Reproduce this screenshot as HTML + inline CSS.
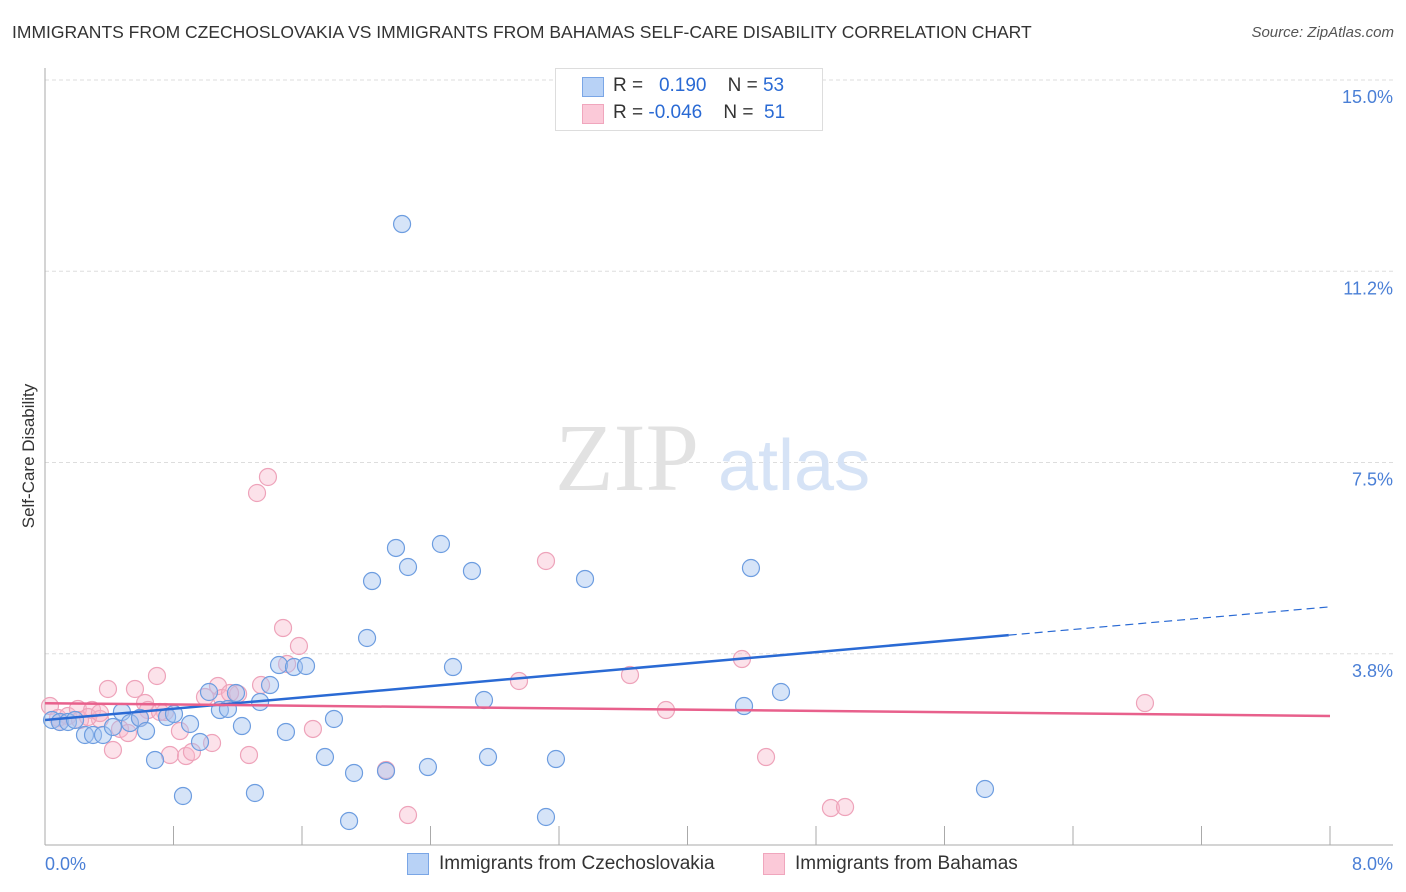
<!DOCTYPE html>
<html><head><meta charset="utf-8"><style>
body{margin:0;background:#fff;font-family:"Liberation Sans",sans-serif;}
#wrap{position:relative;width:1406px;height:892px;overflow:hidden;}
.t{position:absolute;white-space:nowrap;}
</style></head><body>
<div id="wrap">
<div class="t" style="left:12px;top:22px;font-size:17.5px;color:#333;">IMMIGRANTS FROM CZECHOSLOVAKIA VS IMMIGRANTS FROM BAHAMAS SELF-CARE DISABILITY CORRELATION CHART</div>
<div class="t" style="right:12px;top:24px;font-size:15px;color:#555;font-style:italic;">Source: ZipAtlas.com</div>
<svg id="svg" width="1406" height="892" style="position:absolute;left:0;top:0"></svg>
</div>
<script>
const xTicks=[0,0.8,1.6,2.4,3.2,4.0,4.8,5.6,6.4,7.2,8.0];
const yTicks=[3.75,7.5,11.25,15];
const yTickLabels=["3.8%","7.5%","11.2%","15.0%"];
const blueX=[52,60,68,75,85,93,103,113,122,130,140,146,155,167,174,183,190,200,209,220,228,236,242,255,260,270,279,286,294,306,325,334,349,354,367,372,386,396,402,408,428,441,453,472,484,488,546,556,585,744,751,781,985].map(p=>+((p-45)/1285*8).toFixed(3));
const blueY=[720,722,722,720,735,735,735,727,712,723,718,731,760,717,714,796,724,742,692,710,709,693,726,793,702,685,665,732,667,666,757,719,821,773,638,581,771,548,224,567,767,544,667,571,700,757,817,759,579,706,568,692,789].map(p=>+((845-p)/51).toFixed(3));
const pinkX=[50,58,68,78,80,92,100,108,113,120,128,135,145,148,157,165,170,180,186,192,205,212,218,222,238,249,257,261,268,283,287,299,313,386,408,519,546,630,666,742,766,831,845,1145,60,88,140,230,160,100].map(p=>+((p-45)/1285*8).toFixed(3));
const pinkY=[706,718,716,709,720,710,719,689,750,729,733,689,703,710,676,712,755,731,756,752,697,743,686,698,694,755,493,685,477,628,664,646,729,770,815,681,561,675,710,659,757,808,807,703,722,717,718,693,712,713].map(p=>+((845-p)/51).toFixed(3));
const blueTrend=[2.45,4.67], blueSolidEnd=6.0;
const pinkTrend=[2.78,2.53];
const X=v=>45+v/8*1285, Y=v=>845-v*51;
const svg=document.getElementById('svg');const NS='http://www.w3.org/2000/svg';
function mk(t,a){const e=document.createElementNS(NS,t);for(const k in a)e.setAttribute(k,a[k]);svg.appendChild(e);return e;}
yTicks.forEach((v,i)=>{
 const g=mk('line',{x1:45,x2:1393,y1:Y(v),y2:Y(v),stroke:'#ddd','stroke-dasharray':'4,3'});
 
 
 const t=mk('text',{x:1393,y:Y(v)+23,'text-anchor':'end','font-size':18,fill:'#4a7fd6','font-family':'Liberation Sans'});t.textContent=yTickLabels[i];
 
 
});
let a=mk('line',{x1:45,x2:45,y1:68,y2:845,stroke:'#aaa'});
a=mk('line',{x1:45,x2:1393,y1:845,y2:845,stroke:'#aaa'});
xTicks.forEach(v=>{const l=mk('line',{x1:X(v),x2:X(v),y1:826,y2:845,stroke:'#aaa'});
 
 });
[['0.0%',45,'start'],['8.0%',1393,'end']].forEach(d=>{const t=mk('text',{x:d[1],y:870,'text-anchor':d[2],'font-size':18,fill:'#4a7fd6','font-family':'Liberation Sans'});t.textContent=d[0];
 
 });
let yt=mk('text',{x:34,y:456,transform:'rotate(-90 34 456)','text-anchor':'middle','font-size':17,fill:'#333','font-family':'Liberation Sans'});yt.textContent='Self-Care Disability';

let w=mk('text',{x:555,y:490,'font-size':96,fill:'#e2e2e2','font-family':'Liberation Serif'});w.textContent='ZIP';

w=mk('text',{x:718,y:490,'font-size':72,fill:'#d6e3f6','font-family':'Liberation Sans'});w.textContent='atlas';

pinkX.forEach((x,i)=>{const c=mk('circle',{cx:X(x),cy:Y(pinkY[i]),r:8.5,fill:'rgba(248,182,202,0.4)',stroke:'#eea3ba','stroke-width':1.2});
 
 });
blueX.forEach((x,i)=>{const c=mk('circle',{cx:X(x),cy:Y(blueY[i]),r:8.5,fill:'rgba(164,196,240,0.45)',stroke:'#6d9de0','stroke-width':1.2});
 
 });
const by=v=>blueTrend[0]+(blueTrend[1]-blueTrend[0])*v/8;
let l=mk('line',{x1:X(0),y1:Y(by(0)),x2:X(blueSolidEnd),y2:Y(by(blueSolidEnd)),stroke:'#2a6ad4','stroke-width':2.5});

l=mk('line',{x1:X(blueSolidEnd),y1:Y(by(blueSolidEnd)),x2:X(8),y2:Y(by(8)),stroke:'#2a6ad4','stroke-width':1.2,'stroke-dasharray':'8,5'});

l=mk('line',{x1:X(0),y1:Y(pinkTrend[0]),x2:X(8),y2:Y(pinkTrend[1]),stroke:'#e8608c','stroke-width':2.5});

</script>
<div style="position:absolute;left:555px;top:68px;width:266px;height:61px;border:1px solid #ddd;background:#fff;font-size:19px;color:#333;">
 <div style="position:absolute;left:26px;top:8px;width:20px;height:18px;background:#b8d2f6;border:1px solid #7aa6e6"></div>
 <div class="t" style="left:57px;top:6px">R = &nbsp;&nbsp;<span style="color:#2a6ad4">0.190</span>&nbsp;&nbsp;&nbsp; N = <span style="color:#2a6ad4">53</span></div>
 <div style="position:absolute;left:26px;top:35px;width:20px;height:18px;background:#fbc9d8;border:1px solid #f0a6bd"></div>
 <div class="t" style="left:57px;top:33px">R = <span style="color:#2a6ad4">-0.046</span>&nbsp;&nbsp;&nbsp; N = &nbsp;<span style="color:#2a6ad4">51</span></div>
</div>
<div>
 <div style="position:absolute;left:407px;top:853px;width:20px;height:20px;background:#b8d2f6;border:1px solid #7aa6e6"></div>
 <div class="t" style="left:439px;top:853px;font-size:19px;color:#333">Immigrants from Czechoslovakia</div>
 <div style="position:absolute;left:763px;top:853px;width:20px;height:20px;background:#fbc9d8;border:1px solid #f0a6bd"></div>
 <div class="t" style="left:795px;top:853px;font-size:19px;color:#333">Immigrants from Bahamas</div>
</div>
</body></html>
